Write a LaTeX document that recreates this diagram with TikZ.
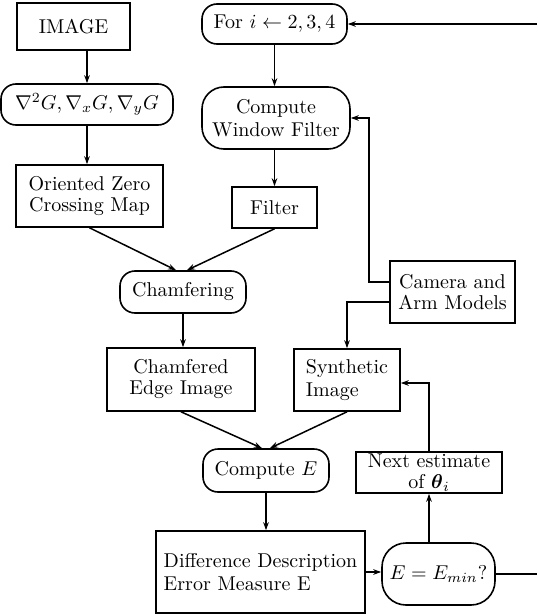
\documentclass[tikz,border=0pt]{standalone}
\usepackage{amsmath}
\usetikzlibrary{arrows.meta,positioning}
\begin{document}
\begin{tikzpicture}[x=0.5pt,y=-0.5pt,
  font=\fontsize{10}{10.5}\selectfont,
  every node/.style={inner sep=0pt, line width=0.8pt},
  sqbox/.style={draw, rectangle, align=center},
  rndbox/.style={draw, rectangle, rounded corners=7.5pt, align=center},
  arr/.style={line width=0.75pt, -{Stealth[length=4pt,width=2.8pt]}},
  ln/.style={line width=0.75pt}]
\useasboundingbox (0,0) rectangle (537,615);

\node[sqbox, minimum width=56.5pt, minimum height=23.5pt] (image) at (73.5,26.5) {IMAGE};
\node[rndbox, minimum width=86pt, minimum height=20.5pt] (grad) at (87,104.5) {$\nabla^2G,\nabla_xG,\nabla_yG$};
\node[sqbox, minimum width=73.5pt, minimum height=31pt] (ozc) at (89.5,196) {Oriented Zero\\Crossing Map};
\node[rndbox, minimum width=72.5pt, minimum height=20pt] (for) at (274.5,24) {For $i\leftarrow 2,3,4$};
\node[rndbox, rounded corners=11pt, minimum width=74pt, minimum height=31pt] (cwf) at (276,118) {Compute\\[1pt]Window Filter};
\node[sqbox, minimum width=42.5pt, minimum height=20.5pt] (filter) at (274.5,207.5) {Filter};
\node[sqbox, minimum width=62.5pt, minimum height=31pt] (cam) at (452.5,292) {Camera and\\Arm Models};
\node[rndbox, minimum width=63pt, minimum height=21pt] (chamf) at (183,292) {Chamfering};
\node[sqbox, minimum width=74pt, minimum height=31.5pt] (ceimg) at (181,379.5) {Chamfered\\Edge Image};
\node[draw, rectangle, align=left, minimum width=53pt, minimum height=31pt] (synth) at (347,380) {Synthetic\\[1pt]Image};
\node[sqbox, minimum width=73pt, minimum height=20.5pt] (next) at (429,472.5) {Next estimate\\of $\boldsymbol{\theta}_i$};
\node[rndbox, minimum width=63pt, minimum height=21.5pt] (compE) at (266,470.5) {Compute $E$};
\node[draw, rectangle, align=left, minimum width=104.5pt, minimum height=41pt] (diff) at (260.5,572) {Difference Description\\[1pt]Error Measure E};
\node[rndbox, rounded corners=12pt, minimum width=56.5pt, minimum height=31pt] (emin) at (438.5,574) {$E=E_{min}?$};

\coordinate (tr) at (537,24);
\coordinate (br) at (537,574);

\draw[arr] (image.south -| grad.north) -- (grad.north);
\draw[arr] (grad.south) -- (grad.south |- ozc.north);
\draw[arr] (for.south) -- (for.south |- cwf.north);
\draw[arr] (filter.north |- cwf.south) -- (filter.north);
\draw[arr] (ozc.south) -- ([xshift=-3.5pt]chamf.north);
\draw[arr] (filter.south) -- ([xshift=2pt]chamf.north);
\draw[arr] ([yshift=5pt]cam.west) -- ++(-20,0) |- (cwf.east);
\draw[arr] ([yshift=-5pt]cam.west) -| (synth.north);
\draw[arr] (chamf.south) -- (chamf.south |- ceimg.north);
\draw[arr] (ceimg.south) -- ([xshift=-2pt]compE.north);
\draw[arr] (synth.south) -- ([xshift=2pt]compE.north);
\draw[arr] (compE.south) -- (compE.south |- diff.north);
\draw[arr] (diff.east) -- (diff.east -| emin.west);
\draw[arr] (next.south |- emin.north) -- (next.south);
\draw[arr] (next.north) |- ([yshift=-1.5pt]synth.east);
\draw[ln] (emin.east) -- (br);
\draw[arr] (tr) -- (for.east);
\end{tikzpicture}
\end{document}
